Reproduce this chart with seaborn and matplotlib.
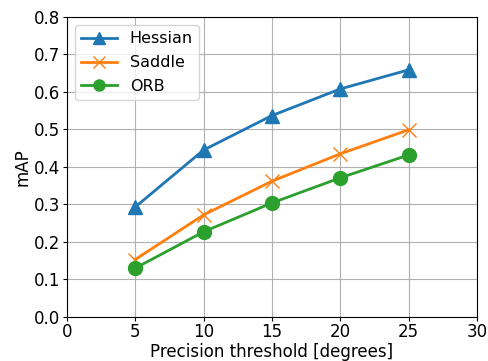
import matplotlib
matplotlib.use("Agg")
import matplotlib.pyplot as plt
import seaborn as sns

thresholds = [5, 10, 15, 20, 25]
hessian = [0.293, 0.445, 0.537, 0.608, 0.659]
saddle = [0.153, 0.272, 0.362, 0.435, 0.499]
orb = [0.130, 0.227, 0.304, 0.371, 0.432]
series_names = ["Hessian", "Saddle", "ORB"]

plt.rcParams.update({"font.size": 12})
fig = plt.figure(figsize=(4.89, 3.61), dpi=100)
ax = fig.add_axes([0.1365, 0.122, 0.839, 0.831])
colors = ["#1f77b4", "#ff7f0e", "#2ca02c"]
markers = ["^", "x", "o"]
for name, vals, c, m in zip(series_names, [hessian, saddle, orb], colors, markers):
    sns.lineplot(x=thresholds, y=vals, ax=ax, color=c, marker=m, label=name,
                 markersize=10, linewidth=2,
                 markeredgecolor=c, markeredgewidth=1)
ax.set_xlim(0, 30)
ax.set_ylim(0, 0.8)
ax.set_xticks([0, 5, 10, 15, 20, 25, 30])
ax.set_yticks([0, 0.1, 0.2, 0.3, 0.4, 0.5, 0.6, 0.7, 0.8])
ax.tick_params(length=3, pad=1.5)
ax.grid(True, color="#b0b0b0", linewidth=0.8)
ax.set_axisbelow(True)
ax.set_xlabel("Precision threshold [degrees]", labelpad=1)
ax.set_ylabel("mAP", labelpad=2)
ax.legend(loc="upper left", fontsize=11.5, labelspacing=0.55, handlelength=2.25,
          handletextpad=0.8, markerscale=0.8)
fig.savefig("out.png", dpi=100)
